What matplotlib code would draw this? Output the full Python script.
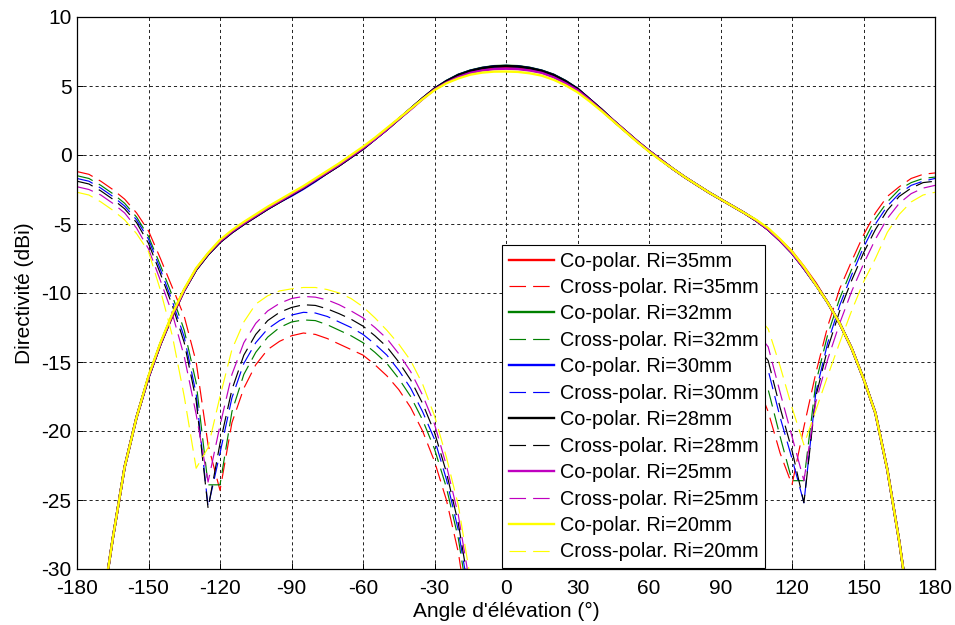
import matplotlib
matplotlib.use('Agg')
import matplotlib.pyplot as plt

plt.rcParams['font.family'] = ['Liberation Sans', 'DejaVu Sans']
plt.rcParams['axes.unicode_minus'] = False

# ---------------- data ----------------
radii = [35, 32, 30, 28, 25, 20]
colors = ['#ff0000', '#008000', '#0000ff', '#000000', '#bf00bf', '#ffff00']

angles_co = list(range(-180, 185, 5))

co_35 = [-46, -40, -33.5, -27.8, -22.6, -19.0, -16.1, -13.7, -11.7, -9.8,
         -8.3, -7.2, -6.3, -5.6, -5.0, -4.45, -3.9, -3.4, -2.9, -2.4,
         -1.85, -1.3, -0.75, -0.15, 0.45, 1.15, 1.85, 2.6, 3.35, 4.1,
         4.8, 5.3, 5.75, 6.02, 6.2, 6.32, 6.35, 6.32, 6.2, 6.02,
         5.75, 5.3, 4.78, 4.05, 3.3, 2.5, 1.75, 1.0, 0.3, -0.35,
         -1.0, -1.6, -2.15, -2.7, -3.2, -3.7, -4.2, -4.75, -5.4, -6.15,
         -7.0, -8.1, -9.3, -10.7, -12.2, -14.0, -16.2, -18.7, -22.8, -28.0,
         -34.0, -40.0, -46.0]
co_32 = [-46, -40, -33.5, -27.8, -22.6, -19.0, -16.1, -13.7, -11.6, -9.8,
         -8.3, -7.2, -6.3, -5.6, -5.0, -4.45, -3.9, -3.4, -2.9, -2.4,
         -1.85, -1.3, -0.75, -0.15, 0.45, 1.15, 1.85, 2.6, 3.35, 4.1,
         4.8, 5.37, 5.82, 6.12, 6.32, 6.44, 6.47, 6.44, 6.32, 6.12,
         5.82, 5.37, 4.8, 4.05, 3.3, 2.5, 1.75, 1.0, 0.3, -0.35,
         -1.0, -1.6, -2.15, -2.7, -3.2, -3.7, -4.2, -4.75, -5.4, -6.2,
         -7.1, -8.2, -9.4, -10.7, -12.2, -14.0, -16.2, -18.7, -22.8, -28.0,
         -34.0, -40.0, -46.0]
co_30 = [-46, -40, -33.5, -27.8, -22.6, -19.0, -16.1, -13.7, -11.6, -9.8,
         -8.3, -7.2, -6.3, -5.6, -5.0, -4.45, -3.9, -3.4, -2.95, -2.45,
         -1.9, -1.3, -0.75, -0.15, 0.45, 1.15, 1.85, 2.6, 3.35, 4.1,
         4.8, 5.35, 5.8, 6.1, 6.3, 6.42, 6.45, 6.42, 6.3, 6.1,
         5.8, 5.35, 4.8, 4.05, 3.3, 2.5, 1.75, 1.0, 0.3, -0.35,
         -1.0, -1.6, -2.15, -2.7, -3.2, -3.7, -4.2, -4.75, -5.4, -6.2,
         -7.1, -8.2, -9.4, -10.7, -12.2, -14.0, -16.2, -18.7, -22.8, -28.0,
         -34.0, -40.0, -46.0]
co_28 = [-46, -40, -33.5, -27.8, -22.6, -19.0, -16.1, -13.7, -11.6, -9.8,
         -8.3, -7.2, -6.3, -5.6, -5.0, -4.45, -3.9, -3.4, -2.9, -2.4,
         -1.85, -1.3, -0.75, -0.15, 0.45, 1.15, 1.85, 2.6, 3.35, 4.1,
         4.8, 5.35, 5.8, 6.1, 6.3, 6.42, 6.45, 6.42, 6.3, 6.1,
         5.8, 5.35, 4.8, 4.05, 3.3, 2.5, 1.75, 1.0, 0.3, -0.35,
         -1.0, -1.6, -2.15, -2.7, -3.2, -3.7, -4.2, -4.75, -5.4, -6.2,
         -7.1, -8.2, -9.4, -10.7, -12.2, -14.0, -16.2, -18.7, -22.8, -28.0,
         -34.0, -40.0, -46.0]
co_25 = [-46, -40, -33.5, -27.8, -22.6, -19.0, -16.1, -13.7, -11.6, -9.8,
         -8.25, -7.15, -6.25, -5.55, -4.95, -4.4, -3.85, -3.35, -2.85, -2.35,
         -1.8, -1.25, -0.7, -0.1, 0.5, 1.15, 1.85, 2.6, 3.3, 4.05,
         4.75, 5.25, 5.65, 5.95, 6.12, 6.22, 6.25, 6.22, 6.12, 5.95,
         5.63, 5.2, 4.7, 4.0, 3.25, 2.5, 1.75, 1.0, 0.3, -0.35,
         -1.0, -1.6, -2.15, -2.7, -3.2, -3.7, -4.2, -4.75, -5.4, -6.2,
         -7.1, -8.2, -9.4, -10.7, -12.2, -14.0, -16.2, -18.7, -22.8, -28.0,
         -34.0, -40.0, -46.0]
co_20 = [-46, -40, -33.5, -27.8, -22.6, -19.0, -16.0, -13.6, -11.5, -9.7,
         -8.2, -7.1, -6.15, -5.45, -4.85, -4.3, -3.75, -3.25, -2.75, -2.25,
         -1.7, -1.15, -0.6, 0.0, 0.6, 1.25, 1.95, 2.65, 3.35, 4.05,
         4.7, 5.2, 5.55, 5.82, 5.97, 6.04, 6.05, 6.02, 5.92, 5.75,
         5.45, 5.05, 4.55, 3.9, 3.2, 2.45, 1.7, 0.95, 0.25, -0.4,
         -1.0, -1.6, -2.15, -2.7, -3.2, -3.7, -4.2, -4.7, -5.3, -6.1,
         -7.0, -8.1, -9.4, -10.7, -12.2, -14.0, -16.2, -18.7, -22.8, -28.0,
         -34.0, -40.0, -46.0]

angles_cx = list(range(-180, 185, 5))

cx_35 = [-1.2, -1.4, -1.9, -2.5, -3.2, -4.2, -5.5, -7.5, -9.6, -11.7,
         -15.0, -21.0, -24.3, -19.4, -16.9, -15.2, -14.1, -13.5, -13.1, -12.9,
         -13.0, -13.3, -13.7, -14.1, -14.5, -15.2, -16.0, -17.0, -18.3, -20.0,
         -22.2, -25.0, -28.8, -34.5,
         -42, -50, -55, -50, -42,
         -34.5, -28.8, -25.0, -22.2, -20.0, -18.3, -17.0, -16.0, -15.2, -14.5,
         -14.1, -13.7, -13.3, -13.0, -12.9, -13.2, -13.8, -14.8, -16.4, -18.6,
         -21.6, -23.9, -19.7, -15.8, -12.4, -9.7, -7.7, -5.8, -4.2, -3.0,
         -2.3, -1.7, -1.4, -1.3]
cx_32 = [-1.5, -1.7, -2.2, -2.8, -3.5, -4.5, -5.9, -8.0, -10.2, -12.7,
         -16.5, -23.9, -23.9, -18.6, -15.9, -14.3, -13.2, -12.5, -12.1, -11.95,
         -12.0, -12.3, -12.7, -13.1, -13.6, -14.3, -15.1, -16.2, -17.5, -19.2,
         -21.3, -24.1, -27.8, -33.2,
         -42, -50, -55, -50, -42,
         -33.2, -27.8, -24.1, -21.3, -19.2, -17.5, -16.2, -15.1, -14.3, -13.6,
         -13.1, -12.7, -12.3, -12.0, -11.95, -12.2, -12.8, -13.8, -15.2, -17.0,
         -20.4, -23.6, -23.6, -16.5, -13.0, -10.4, -8.3, -6.3, -4.6, -3.4,
         -2.5, -2.0, -1.7, -1.6]
cx_30 = [-1.7, -1.9, -2.4, -3.0, -3.7, -4.7, -6.1, -8.3, -10.6, -13.2,
         -17.3, -25.5, -21.6, -17.6, -15.1, -13.6, -12.6, -12.0, -11.6, -11.4,
         -11.45, -11.7, -12.1, -12.5, -13.0, -13.7, -14.5, -15.6, -16.9, -18.6,
         -20.6, -23.5, -27.2, -32.4,
         -42, -50, -55, -50, -42,
         -32.4, -27.2, -23.5, -20.6, -18.6, -16.9, -15.6, -14.5, -13.7, -13.0,
         -12.5, -12.1, -11.7, -11.45, -11.4, -11.7, -12.3, -13.2, -14.3, -15.6,
         -19.0, -22.0, -25.2, -17.2, -13.6, -10.9, -8.7, -6.7, -5.0, -3.7,
         -2.8, -2.2, -1.9, -1.7]
cx_28 = [-1.9, -2.1, -2.6, -3.2, -3.9, -4.9, -6.4, -8.6, -10.9, -13.6,
         -17.8, -25.6, -20.9, -17.0, -14.5, -13.0, -12.0, -11.4, -11.05, -10.85,
         -10.9, -11.15, -11.5, -11.9, -12.4, -13.1, -13.9, -15.0, -16.3, -18.0,
         -20.1, -23.0, -26.7, -31.9,
         -42, -50, -55, -50, -42,
         -31.9, -26.7, -23.0, -20.1, -18.0, -16.3, -15.0, -13.9, -13.1, -12.4,
         -11.9, -11.5, -11.15, -10.9, -10.85, -11.1, -11.7, -12.6, -13.7, -14.9,
         -18.3, -21.4, -25.2, -17.5, -14.0, -11.3, -9.1, -7.1, -5.4, -4.0,
         -3.0, -2.4, -2.0, -1.9]
cx_25 = [-2.3, -2.5, -2.9, -3.5, -4.2, -5.3, -6.8, -9.1, -11.5, -14.6,
         -18.8, -23.7, -19.6, -15.9, -13.6, -12.2, -11.3, -10.75, -10.4, -10.25,
         -10.3, -10.5, -10.85, -11.3, -11.8, -12.5, -13.3, -14.4, -15.7, -17.4,
         -19.5, -22.5, -26.1, -31.3,
         -42, -50, -55, -50, -42,
         -31.3, -26.1, -22.5, -19.5, -17.4, -15.7, -14.4, -13.3, -12.5, -11.8,
         -11.3, -10.85, -10.5, -10.3, -10.25, -10.5, -11.0, -11.8, -12.8, -13.9,
         -17.2, -20.4, -23.6, -17.9, -14.8, -12.2, -9.9, -7.9, -6.1, -4.6,
         -3.5, -2.8, -2.4, -2.2]
cx_20 = [-2.7, -2.9, -3.4, -4.0, -4.7, -5.7, -7.0, -9.8, -13.1, -17.5,
         -22.7, -21.2, -17.5, -14.1, -12.1, -10.8, -10.2, -9.85, -9.7, -9.6,
         -9.6, -9.75, -10.0, -10.4, -11.0, -11.8, -12.7, -13.7, -14.9, -16.6,
         -18.9, -21.9, -25.4, -30.6,
         -42, -50, -55, -50, -42,
         -30.6, -25.4, -21.9, -18.9, -16.6, -14.9, -13.7, -12.7, -11.8, -11.0,
         -10.4, -10.0, -9.75, -9.6, -9.6, -9.8, -10.2, -10.9, -11.6, -12.6,
         -15.3, -18.3, -21.0, -18.5, -16.0, -13.6, -11.3, -9.2, -7.5, -5.6,
         -4.3, -3.4, -2.9, -2.7]

co_all = [co_35, co_32, co_30, co_28, co_25, co_20]
cx_all = [cx_35, cx_32, cx_30, cx_28, cx_25, cx_20]
for s in co_all:
    assert len(s) == len(angles_co), len(s)
for s in cx_all:
    assert len(s) == len(angles_cx), len(s)

xticks = list(range(-180, 181, 30))
yticks = list(range(-30, 11, 5))

# ---------------- figure ----------------
fig = plt.figure(figsize=(9.55, 6.25), dpi=100)
ax = fig.add_axes([77 / 955, 1 - 569 / 625, 858 / 955, 552 / 625])

for r, c, co, cx in zip(radii, colors, co_all, cx_all):
    ax.plot(angles_co, co, color=c, lw=1.7, solid_joinstyle='round',
            label=f'Co-polar. Ri={r}mm')
    ax.plot(angles_cx, cx, color=c, lw=0.85, linestyle=(0, (14, 6)),
            label=f'Cross-polar. Ri={r}mm')

ax.set_xlim(-180, 180)
ax.set_ylim(-30, 10)
ax.set_xticks(xticks)
ax.set_yticks(yticks)
ax.grid(True, color='#222222', linestyle=(0, (3.2, 3.0)), linewidth=0.7)
ax.tick_params(axis='both', direction='in', length=4, width=0.7, labelsize=15)
ax.tick_params(axis='x', pad=7)
ax.tick_params(axis='y', pad=4)
for sp in ax.spines.values():
    sp.set_linewidth(0.9)
    sp.set_color('black')

ax.set_xlabel("Angle d'élévation (°)", fontsize=15, labelpad=3)
ax.set_ylabel('Directivité (dBi)', fontsize=15, labelpad=5)

leg = ax.legend(loc='upper left', bbox_to_anchor=(0.4953, 0.587), fontsize=14.3,
                labelspacing=0.375, handlelength=2.3, handletextpad=0.3,
                borderpad=0.33, borderaxespad=0, frameon=True, fancybox=False,
                edgecolor='black', framealpha=1)
leg.get_frame().set_linewidth(0.8)

fig.savefig('out.png', dpi=100)
